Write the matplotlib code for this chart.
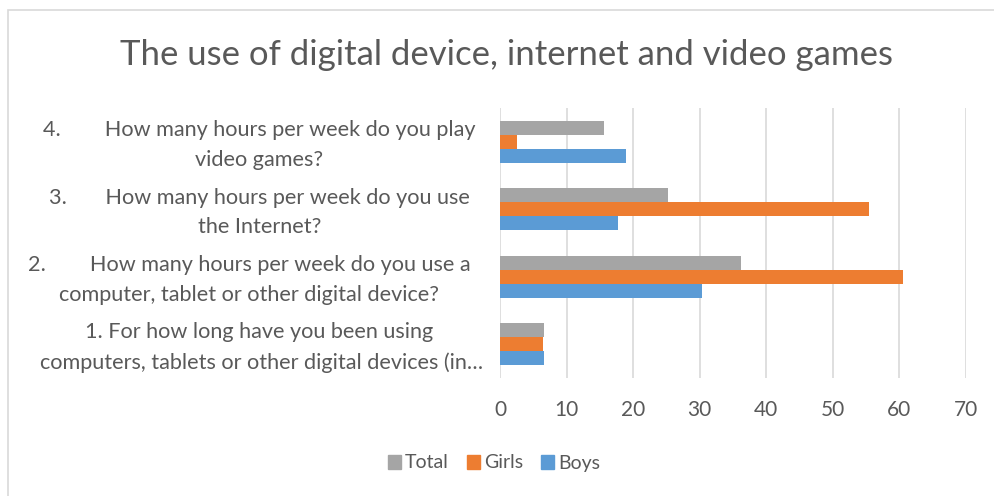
import numpy as np
import matplotlib
matplotlib.use("Agg")
import matplotlib.pyplot as plt
from matplotlib.patches import Rectangle, Patch

plt.rcParams["font.family"] = ["Lato", "DejaVu Sans"]

# survey questions, bottom to top
questions = [
    "1. For how long have you been using \ncomputers, tablets or other digital devices (in\u2026",
    "2.        How many hours per week do you use a\ncomputer, tablet or other digital device?",
    "3.       How many hours per week do you use\nthe Internet?",
    "4.        How many hours per week do you play\nvideo games?",
]
boys = [6.6, 30.3, 17.7, 18.9]
girls = [6.5, 60.6, 55.4, 2.5]
total = [6.55, 36.2, 25.3, 15.6]

x_ticks = [0, 10, 20, 30, 40, 50, 60, 70]

TEXT = "#595959"
GRID = "#d9d9d9"
C_TOTAL = "#a5a5a5"
C_GIRLS = "#ed7d31"
C_BOYS = "#5b9bd5"

W, H = 995, 496
fig = plt.figure(figsize=(W / 100, H / 100), dpi=100)
fig.patch.set_facecolor("white")

# chart-area border (only top and left edges fall inside the image)
fig.patches.append(Rectangle((8 / W, -0.1), 1.2, (H - 9.5) / H + 0.1,
                             transform=fig.transFigure, fill=False,
                             edgecolor="#d9d9d9", linewidth=1.2))

ax = fig.add_axes([500 / W, (H - 378) / H, 466 / W, 270 / H])

y = np.arange(len(questions))
h = 0.208
ax.barh(y + h, total, height=h, color=C_TOTAL, zorder=3)
ax.barh(y, girls, height=h, color=C_GIRLS, zorder=3)
ax.barh(y - h, boys, height=h, color=C_BOYS, zorder=3)

ax.set_xlim(0, 70)
ax.set_ylim(-0.5, len(questions) - 0.5)
ax.set_xticks(x_ticks)
ax.set_xticklabels([str(t) for t in x_ticks])
ax.set_yticks([])
ax.tick_params(axis="x", length=0, pad=16, labelsize=15, labelcolor=TEXT)
ax.grid(axis="x", color=GRID, linewidth=1.2, zorder=0)
for s in ax.spines.values():
    s.set_visible(False)

# category labels, centred in the space left of the plot
label_x = [-0.512, -0.538, -0.516, -0.517]
for yi, q, lx in zip(y, questions, label_x):
    ax.text(lx, yi - 0.05, q, transform=ax.get_yaxis_transform(),
            ha="center", va="center", multialignment="center",
            fontsize=15.6, color=TEXT, linespacing=1.6)

fig.text(507 / W, 1 - 55 / H, "The use of digital device, internet and video games",
         ha="center", va="center", fontsize=25, color=TEXT)

handles = [Patch(color=C_TOTAL, label="Total"),
           Patch(color=C_GIRLS, label="Girls"),
           Patch(color=C_BOYS, label="Boys")]
fig.legend(handles=handles, loc="center", bbox_to_anchor=(494 / W, 1 - 463 / H),
           ncol=3, frameon=False, fontsize=14, labelcolor=TEXT,
           handlelength=0.7, handleheight=0.7, handletextpad=0.2,
           columnspacing=0.9)

fig.savefig("out.png", dpi=100)
